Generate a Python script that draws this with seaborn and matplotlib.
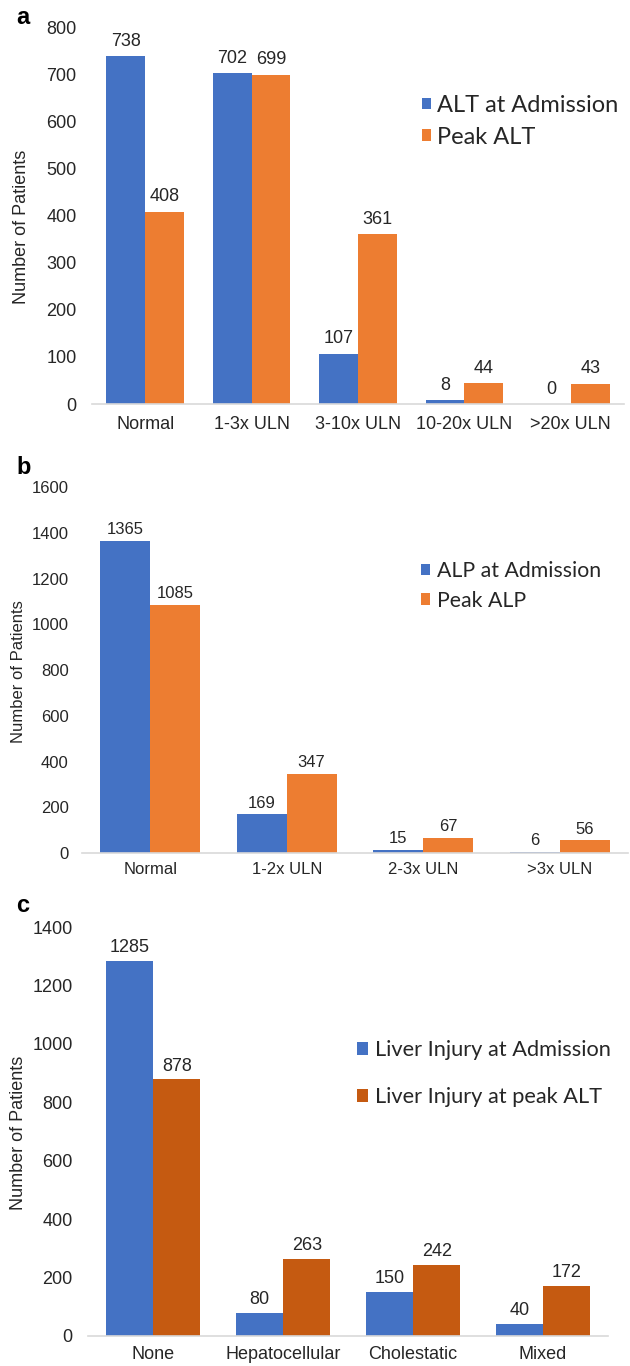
import pandas as pd
import matplotlib
matplotlib.use('Agg')
import matplotlib.pyplot as plt
import seaborn as sns
from matplotlib.patches import Patch

# panel a - ALT
alt_cats = ['Normal', '1-3x ULN', '3-10x ULN', '10-20x ULN', '>20x ULN']
alt_admission = [738, 702, 107, 8, 0]
alt_peak = [408, 699, 361, 44, 43]
alt_series = ['ALT at Admission', 'Peak ALT']

# panel b - ALP
alp_cats = ['Normal', '1-2x ULN', '2-3x ULN', '>3x ULN']
alp_admission = [1365, 169, 15, 6]
alp_peak = [1085, 347, 67, 56]
alp_series = ['ALP at Admission', 'Peak ALP']

# panel c - liver injury pattern
inj_cats = ['None', 'Hepatocellular', 'Cholestatic', 'Mixed']
inj_admission = [1285, 80, 150, 40]
inj_peak = [878, 263, 242, 172]
inj_series = ['Liver Injury at Admission', 'Liver Injury at peak ALT']

BLUE = '#4472C4'
ORANGE = '#ED7D31'
DARK_ORANGE = '#C55A11'
TXT = '#262626'

sns.set_theme(style='white')
plt.rcParams['font.family'] = ['Liberation Sans', 'DejaVu Sans']

W, H = 630, 1366
fig = plt.figure(figsize=(W / 100, H / 100), dpi=100)


def long_df(cats, first, second, names):
    return pd.DataFrame({
        'cat': cats * 2,
        'n': first + second,
        'series': [names[0]] * len(cats) + [names[1]] * len(cats),
    })


def panel(box, cats, first, second, names, colors, ymax, ystep,
          fs, xpad, ypad, lblpad, ylab_xy, letter, letter_xy,
          leg_xy, leg_fs, leg_sq, leg_gap, leg_space):
    x0, y0, x1, y1 = box
    ax = fig.add_axes([x0 / W, 1 - y1 / H, (x1 - x0) / W, (y1 - y0) / H])
    df = long_df(cats, first, second, names)
    sns.barplot(data=df, x='cat', y='n', hue='series', palette=colors,
                width=0.73, saturation=1, linewidth=0, ax=ax, legend=False)
    ax.set_ylim(0, ymax)
    ax.set_yticks(range(0, ymax + 1, ystep))
    ax.set_xlabel('')
    ax.set_ylabel('Number of Patients', fontsize=fs, color=TXT)
    ax.yaxis.label.set_verticalalignment('center')
    ax.yaxis.set_label_coords(ylab_xy[0], ylab_xy[1])
    ax.tick_params(axis='x', length=0, pad=xpad, labelsize=fs, colors=TXT)
    ax.tick_params(axis='y', length=0, pad=ypad, labelsize=fs, colors=TXT)
    for s in ['top', 'right', 'left']:
        ax.spines[s].set_visible(False)
    ax.spines['bottom'].set_color('#D9D9D9')
    ax.spines['bottom'].set_linewidth(1.2)
    for cont in ax.containers:
        ax.bar_label(cont, fmt='%d', padding=lblpad, fontsize=fs, color=TXT)
    handles = [Patch(facecolor=c, edgecolor='none') for c in colors]
    sq = leg_sq / (leg_fs * 100 / 72)
    ax.legend(handles, names, loc='upper left',
              bbox_to_anchor=(leg_xy[0] / W, 1 - leg_xy[1] / H),
              bbox_transform=fig.transFigure, frameon=False,
              prop={'family': ['Lato', 'DejaVu Sans'], 'size': leg_fs},
              handlelength=sq, handleheight=sq, handletextpad=leg_gap,
              labelspacing=leg_space, borderpad=0, borderaxespad=0)
    fig.text(letter_xy[0] / W, 1 - letter_xy[1] / H, letter, fontsize=17,
             fontweight='bold', ha='center', va='center', color='black')
    return ax


panel((92, 27, 624, 404), alt_cats, alt_admission, alt_peak, alt_series,
      [BLUE, ORANGE], 800, 100, 13, 8.5, 11, 4.5, (-0.1316, 0.469),
      'a', (23, 17), (422, 95), 17, 9, 0.25, 0.45)

panel((82, 487, 628, 853), alp_cats, alp_admission, alp_peak, alp_series,
      [BLUE, ORANGE], 1600, 200, 12, 6.5, 9.5, 2.5, (-0.117, 0.4945),
      'b', (24, 467), (421, 561), 15.3, 9, 0.35, 0.45)

panel((88, 927, 608, 1336), inj_cats, inj_admission, inj_peak, inj_series,
      [BLUE, DARK_ORANGE], 1400, 200, 13, 7.5, 11, 3.5, (-0.1346, 0.496),
      'c', (23, 906), (357, 1040), 15.7, 11, 0.3, 1.25)

fig.savefig('out.png', dpi=100)
